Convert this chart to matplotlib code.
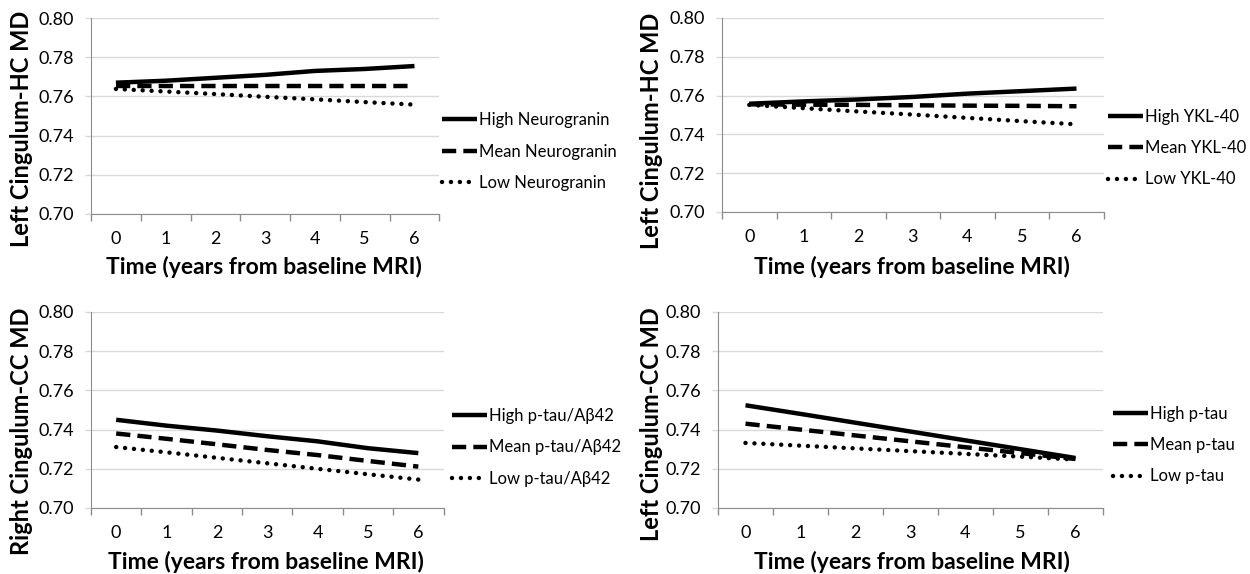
import matplotlib
matplotlib.use('Agg')
import matplotlib.pyplot as plt
from matplotlib.ticker import FixedLocator, NullFormatter, FixedFormatter

plt.rcParams['font.family'] = ['Lato', 'DejaVu Sans']

years = [0, 1, 2, 3, 4, 5, 6]
y_ticks = [0.70, 0.72, 0.74, 0.76, 0.78, 0.80]

ng_high = [0.767, 0.768, 0.7695, 0.771, 0.773, 0.774, 0.7755]
ng_mean = [0.7652, 0.7652, 0.7652, 0.7652, 0.7652, 0.7652, 0.7652]
ng_low = [0.7638, 0.7625, 0.7612, 0.7598, 0.7585, 0.7571, 0.7558]

ykl_high = [0.7558, 0.757, 0.758, 0.7593, 0.761, 0.7623, 0.7636]
ykl_mean = [0.7555, 0.7553, 0.7552, 0.755, 0.7548, 0.7547, 0.7545]
ykl_low = [0.7552, 0.7535, 0.7518, 0.7502, 0.7485, 0.7468, 0.7452]

ratio_high = [0.745, 0.742, 0.7395, 0.7366, 0.734, 0.7305, 0.728]
ratio_mean = [0.738, 0.7353, 0.7325, 0.7296, 0.727, 0.724, 0.7211]
ratio_low = [0.7311, 0.7284, 0.7256, 0.7228, 0.72, 0.7172, 0.7145]

ptau_high = [0.7524, 0.748, 0.7435, 0.739, 0.7345, 0.730, 0.7255]
ptau_mean = [0.743, 0.740, 0.737, 0.734, 0.731, 0.728, 0.725]
ptau_low = [0.7332, 0.7318, 0.7304, 0.729, 0.7276, 0.7262, 0.7247]

panels = [
    ('Left Cingulum-HC MD', [ng_high, ng_mean, ng_low],
     ['High Neurogranin', 'Mean Neurogranin', 'Low Neurogranin']),
    ('Left Cingulum-HC MD', [ykl_high, ykl_mean, ykl_low],
     ['High YKL-40', 'Mean YKL-40', 'Low YKL-40']),
    ('Right Cingulum-CC MD', [ratio_high, ratio_mean, ratio_low],
     ['High p-tau/Aβ42', 'Mean p-tau/Aβ42', 'Low p-tau/Aβ42']),
    ('Left Cingulum-CC MD', [ptau_high, ptau_mean, ptau_low],
     ['High p-tau', 'Mean p-tau', 'Low p-tau']),
]

# axes rectangles, ylabel pos, xlabel pos, legend anchor (figure fractions)
axes_pos = [
    [0.0728, 0.6272, 0.2787, 0.3414],
    [0.5776, 0.6307, 0.3054, 0.3380],
    [0.0728, 0.1150, 0.2820, 0.3415],
    [0.5744, 0.1150, 0.3080, 0.3415],
]
ylabel_pos = [(0.0176, 0.776), (0.521, 0.772), (0.0176, 0.249), (0.5215, 0.261)]
xlabel_pos = [(0.211, 0.535), (0.7296, 0.535), (0.213, 0.021), (0.7296, 0.021)]
legend_pos = [(0.3536, 0.736), (0.8864, 0.742), (0.3616, 0.2204), (0.8904, 0.2247)]

styles = [
    dict(linestyle='-'),
    dict(linestyle=(0, (3.2, 1.6))),
    dict(linestyle=(0, (0.01, 2.0)), dash_capstyle='round'),
]

axis_gray = '#8c8c8c'
grid_gray = '#d9d9d9'


def draw_panel(fig, i):
    ylab, series, names = panels[i]
    ax = fig.add_axes(axes_pos[i])
    for vals, name, st in zip(series, names, styles):
        ax.plot(years, vals, color='black', linewidth=3.2, label=name,
                solid_capstyle='butt', **st)

    ax.set_xlim(-0.5, 6.5)
    ax.set_ylim(0.70, 0.80)
    ax.xaxis.set_major_locator(FixedLocator([k - 0.5 for k in range(8)]))
    ax.xaxis.set_major_formatter(NullFormatter())
    ax.xaxis.set_minor_locator(FixedLocator(years))
    ax.xaxis.set_minor_formatter(FixedFormatter([str(y) for y in years]))
    ax.tick_params(axis='x', which='major', length=5, color=axis_gray, width=1)
    ax.tick_params(axis='x', which='minor', length=0, pad=12, labelsize=13)

    ax.set_yticks(y_ticks)
    ax.set_yticklabels(['%.2f' % v for v in y_ticks])
    ax.tick_params(axis='y', length=4, color=grid_gray, width=1, pad=8,
                   labelsize=13)
    ax.grid(axis='y', color=grid_gray, linewidth=1)
    ax.set_axisbelow(True)

    for s in ['top', 'right']:
        ax.spines[s].set_visible(False)
    ax.spines['left'].set_color(axis_gray)
    ax.spines['bottom'].set_color(axis_gray)

    fig.text(ylabel_pos[i][0], ylabel_pos[i][1], ylab, rotation=90,
             ha='center', va='center', fontsize=17, fontweight='bold')
    fig.text(xlabel_pos[i][0], xlabel_pos[i][1], 'Time (years from baseline MRI)',
             ha='center', va='center', fontsize=16.5, fontweight='bold')

    ax.legend(loc='center left', bbox_to_anchor=legend_pos[i],
              bbox_transform=fig.transFigure, frameon=False, fontsize=12,
              handlelength=2.1, handletextpad=0.1, labelspacing=0.92,
              borderpad=0, borderaxespad=0)
    return ax


def main():
    fig = plt.figure(figsize=(12.5, 5.74), dpi=100)
    for i in range(4):
        draw_panel(fig, i)
    fig.savefig('out.png', dpi=100)
    plt.close(fig)


if __name__ == "__main__":
    main()
